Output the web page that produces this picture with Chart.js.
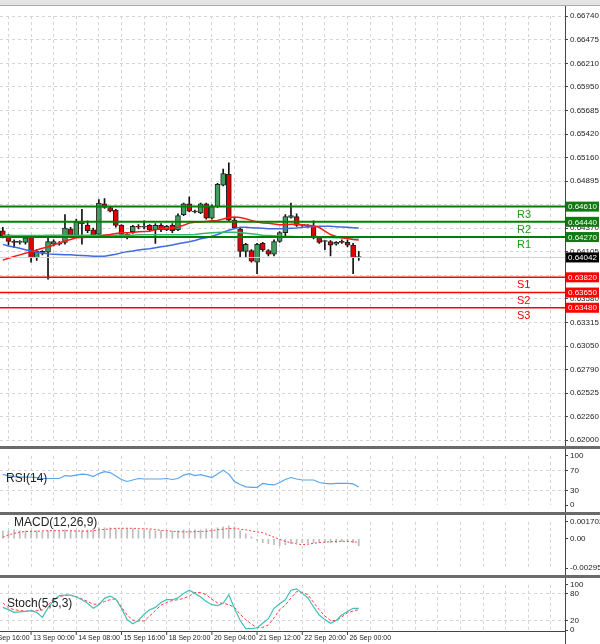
<!DOCTYPE html>
<html><head><meta charset="utf-8">
<script src="https://cdn.jsdelivr.net/npm/chart.js@4"></script>
<style>
body{margin:0;width:600px;height:644px;background:#fff;position:relative;overflow:hidden;font-family:"Liberation Sans",Arial,sans-serif}
.p{position:absolute;left:0;width:600px}
#top{position:absolute;left:0;top:0;width:600px;height:5px;background:#e4e4e4;border-bottom:1px solid #aaa}
.sep{position:absolute;left:0;width:600px;height:3px;background:#6a6a6a}
</style></head><body>
<div id="top"></div>
<div class="p" style="top:6px;height:441px"><canvas id="c1"></canvas></div>
<div class="sep" style="top:446px"></div>
<div class="p" style="top:449px;height:63px"><canvas id="c2"></canvas></div>
<div class="sep" style="top:512px"></div>
<div class="p" style="top:515px;height:60px"><canvas id="c3"></canvas></div>
<div class="sep" style="top:575px"></div>
<div class="p" style="top:578px;height:66px"><canvas id="c4"></canvas></div>
<script>
const N = 100;
const open  = [.6434,.6428,.6422,.6421,.6421,.6427,.6404,.6409,.6410,.6419,.6419,.6421,.6436,.6429,.6443,.6440,.6435,.6430,.6464,.6460,.6457,.6440,.6430,.6433,.6439,.6438,.6440,.6435,.6440,.6435,.6440,.6435,.6452,.6464,.6456,.6454,.6464,.6448,.6461,.6485,.6497,.6446,.6436,.6411,.6412,.6399,.6420,.6412,.6408,.6422,.6432,.6449,.6450,.6440,.6440,.6439,.6426,.6422,.6422,.6419,.6422,.6421,.6418,.6404];
const close = [.6428,.6422,.6421,.6421,.6426,.6404,.6411,.6411,.6422,.6422,.6420,.6437,.6429,.6444,.6442,.6434,.6429,.6465,.6460,.6456,.6440,.6430,.6429,.6439,.6438,.6438,.6435,.6440,.6435,.6439,.6434,.6451,.6464,.6456,.6455,.6464,.6448,.6461,.6486,.6498,.6446,.6437,.6411,.6419,.6400,.6419,.6413,.6408,.6422,.6432,.6450,.6451,.6440,.6440,.6439,.6426,.6421,.6422,.6418,.6421,.6421,.6418,.6404,.6404];
const high  = [.6438,.6430,.6424,.6423,.6428,.6428,.6413,.6412,.6427,.6424,.6422,.6452,.6438,.6447,.6458,.6445,.6437,.6469,.6470,.6461,.6458,.6441,.6431,.6440,.6441,.6445,.6441,.6442,.6442,.6440,.6442,.6453,.6465,.6472,.6457,.6465,.6465,.6463,.6487,.6503,.6510,.6448,.6437,.6420,.6413,.6420,.6421,.6413,.6424,.6433,.6452,.6465,.6453,.6441,.6441,.6445,.6427,.6423,.6423,.6422,.6424,.6424,.6420,.6411];
const low   = [.6426,.6418,.6415,.6419,.6419,.6399,.6401,.6407,.6380,.6417,.6418,.6419,.6427,.6427,.6419,.6432,.6428,.6429,.6459,.6455,.6438,.6428,.6425,.6431,.6436,.6436,.6434,.6420,.6433,.6434,.6432,.6434,.6451,.6455,.6454,.6453,.6447,.6447,.6460,.6484,.6445,.6436,.6404,.6404,.6399,.6386,.6411,.6406,.6406,.6421,.6428,.6448,.6439,.6439,.6438,.6425,.6420,.6413,.6406,.6418,.6420,.6416,.6386,.6401];
const maRedZ  = [368,362,357,352,347,342,337,332,328,322,315,310,305,300,299,298,298,296,292,290,287,285,285,284,282,281,280,276,272,272,270,268,262,255,253,252,250,248,247,243,238,237,238,242,247,252,255,256,258,260,260,259,258,260,262,263,268,280,290,296,300,302,305,307];
const maBlueZ = [320,325,328,332,336,340,343,346,349,350,351,352,352,353,354,355,356,356,356,353,350,346,342,340,337,335,333,330,327,325,322,318,315,312,308,303,300,295,290,283,277,272,268,268,269,270,271,272,272,272,272,271,270,268,267,266,265,265,265,266,267,268,269,270];
const maGreenZ= [292,292,293,293,293,293,293,293,292,292,292,292,292,292,292,292,292,292,292,292,292,292,292,292,291,291,291,291,291,291,291,291,291,291,290,288,286,285,284,283,283,283,284,286,288,290,292,293,294,295,296,296,297,297,298,298,299,299,299,300,300,300,300,300];
const zToPrice = z => +(0.653625 - 0.0000367*z).toFixed(5);
const maRed = maRedZ.map(zToPrice), maBlue = maBlueZ.map(zToPrice), maGreen = maGreenZ.map(zToPrice);
const rsi = [62,60,58,57,57,57,56,54,54,54,54,60,59,61,63,62,58,64,68,66,59,52,48,51,54,53,53,53,53,54,52,54,61,64,60,62,59,56,63,71,63,48,42,37,36,36,44,42,41,46,52,56,53,51,51,51,46,44,43,44,44,44,43,37];
const macdSig = [.00015,.00039,.00054,.00066,.00072,.00075,.00075,.00078,.00081,.00081,.00081,.00081,.00081,.00078,.00078,.00075,.00081,.0009,.00093,.00099,.00105,.00105,.00105,.00105,.00102,.00099,.00099,.00093,.00084,.00081,.00075,.00072,.00069,.00069,.00072,.00072,.00075,.00081,.0009,.00096,.00102,.00105,.00096,.0009,.00078,.00069,.0006,.00039,.00015,-.00006,-.00027,-.00039,-.00051,-.0006,-.00054,-.00045,-.00039,-.00033,-.0003,-.00027,-.00024,-.00027,-.0003,-.00036];
const macdHist = [.0008,.0008,.0009,.0008,.0008,.0008,.0008,.0007,.0008,.0008,.0008,.0009,.0008,.0008,.0008,.0009,.0010,.0011,.0011,.0011,.0010,.0010,.0010,.0010,.0009,.0009,.0009,.0008,.0008,.0008,.0008,.0008,.0009,.0009,.0009,.0009,.0010,.0010,.0011,.0012,.0013,.0012,.0008,.0005,.0002,-.0002,-.0004,-.0005,-.0006,-.0007,-.0006,-.0005,-.0004,-.0004,-.0004,-.0004,-.0004,-.0004,-.0004,-.0004,-.0003,-.0003,-.0004,-.0007];
const stochMain = [50,45,39,40,41,43,39,28,49,65,76,77,77,73,67,59,48,56,70,75,68,48,23,14,21,35,45,50,61,67,67,71,81,88,81,73,63,56,54,59,78,48,21,3,3,5,15,25,48,58,67,88,91,81,71,51,33,23,15,21,33,41,48,48];
const stochSig  = [60,49,45,43,42,42,43,44,55,69,73,77,77,74,69,63,57,57,63,67,69,51,33,22,20,20,31,43,55,61,65,67,70,75,83,83,78,68,60,59,56,50,35,23,13,5,6,11,27,45,55,71,85,83,78,61,45,31,21,21,29,38,42,45];
const priceTicks = [0.66740,0.66475,0.66210,0.65950,0.65685,0.65420,0.65160,0.64895,0.64630,0.64370,0.64105,0.63840,0.63580,0.63315,0.63050,0.62790,0.62525,0.62260,0.62000];
const levels = [{v:0.6461,n:'R3',c:'#008000'},{v:0.6444,n:'R2',c:'#008000'},{v:0.6427,n:'R1',c:'#008000'},{v:0.6382,n:'S1',c:'#ff0000'},{v:0.6365,n:'S2',c:'#ff0000'},{v:0.6348,n:'S3',c:'#ff0000'}];
const lastPrice = 0.64042;
const dateLabels = [{i:-3,t:'12 Sep 16:00'},{i:5,t:'13 Sep 00:00'},{i:13,t:'14 Sep 08:00'},{i:21,t:'15 Sep 16:00'},{i:29,t:'18 Sep 20:00'},{i:37,t:'20 Sep 04:00'},{i:45,t:'21 Sep 12:00'},{i:53,t:'22 Sep 20:00'},{i:61,t:'26 Sep 00:00'}];

const labels = Array.from({length:N},(_,i)=>i);
const F = '"Liberation Sans", Arial, sans-serif';
Chart.defaults.font.family = F;
Chart.defaults.animation = false;
const GRID = '#d4d4d4';

function xScale(){
  return {type:'category',display:true,offset:true,
    afterBuildTicks:s=>{s.ticks=s.ticks.filter(t=>t.value%4===1)},
    ticks:{display:false,autoSkip:false},border:{display:false,dash:[3,3]},
    grid:{offset:false,drawTicks:false,color:GRID},
  };
}
function yScale(min,max,ticks,fmt,gridVals){
  return {position:'right',min,max,
    afterFit:s=>{s.width=35},
    afterBuildTicks:s=>{s.ticks=ticks.map(v=>({value:v}))},
    border:{display:true,color:'#444',width:1,dash:[3,3]},
    grid:{drawTicks:true,tickLength:3,tickColor:'#444',color:ctx=>{const v=ctx.tick&&ctx.tick.value;return (gridVals===null||gridVals.includes(v))?GRID:'rgba(0,0,0,0)'}},
    ticks:{padding:2,color:'#222',font:{size:8},callback:fmt}
  };
}
function baseOpts(extra){
  return Object.assign({responsive:true,maintainAspectRatio:false,
    plugins:{legend:{display:false},tooltip:{enabled:false}}},extra);
}
const axisLine = {id:'ax',afterDraw(ch){const {ctx,chartArea:a}=ch;ctx.save();ctx.strokeStyle='#444';ctx.lineWidth=1;ctx.beginPath();ctx.moveTo(a.right+0.5,0);ctx.lineTo(a.right+0.5,ch.height);ctx.stroke();ctx.restore();}};

const bodyColors = open.map((o,i)=>close[i]>=o?'#3f9f5f':'#e00000');
const levelPlugin = {id:'lv',afterDraw(ch){
  const {ctx,chartArea:a,scales:{y}}=ch;
  ctx.save();
  const py=y.getPixelForValue(lastPrice);
  ctx.strokeStyle='#d0d0d0';ctx.lineWidth=1;ctx.beginPath();ctx.moveTo(a.left,py);ctx.lineTo(a.right,py);ctx.stroke();
  levels.forEach(l=>{
    const p=y.getPixelForValue(l.v);
    ctx.strokeStyle=l.c;ctx.lineWidth=l.c==='#008000'?2:1.5;
    ctx.beginPath();ctx.moveTo(a.left,p);ctx.lineTo(a.right,p);ctx.stroke();
    ctx.fillStyle=l.c==='#008000'?'#1e9a1e':'#ff0000';
    ctx.font='11px '+F;ctx.textAlign='left';ctx.textBaseline='middle';
    ctx.fillText(l.n,517,p+8);
    ctx.fillStyle=l.c==='#008000'?'#107a10':'#ff0000';
    ctx.fillRect(a.right+1,p-5,33,10);
    ctx.fillStyle='#fff';ctx.font='8px '+F;ctx.fillText(l.v.toFixed(5),a.right+3,p+0.5);
  });
  ctx.fillStyle='#000';ctx.fillRect(a.right+1,py-5,33,10);
  ctx.fillStyle='#fff';ctx.font='8px '+F;ctx.fillText(lastPrice.toFixed(5),a.right+3,py+0.5);
  ctx.restore();
}};
new Chart(document.getElementById('c1'),{
  data:{labels,datasets:[
    {type:'bar',data:high.map((h,i)=>[low[i],h]),backgroundColor:'#111',barThickness:1,grouped:false,order:3},
    {type:'bar',data:open.map((o,i)=>[o,close[i]]),backgroundColor:bodyColors,borderColor:'#222',borderWidth:1,borderSkipped:false,barThickness:5,minBarLength:1,grouped:false,order:2},
    {type:'line',data:maGreen,borderColor:'#3cb371',borderWidth:1.5,pointRadius:0,order:1},
    {type:'line',data:maBlue,borderColor:'#4169e1',borderWidth:1.5,pointRadius:0,order:1},
    {type:'line',data:maRed,borderColor:'#ff1a1a',borderWidth:1.5,pointRadius:0,order:0}
  ]},
  options:baseOpts({layout:{padding:{top:10,bottom:2}},
    scales:{x:xScale(),y:yScale(0.62,0.6674,priceTicks,v=>v.toFixed(5),null)}}),
  plugins:[levelPlugin,axisLine]});

function titlePlugin(t,x,y){return {id:'t'+t,afterDraw(ch){const c=ch.ctx;c.save();c.fillStyle='#222';c.font='12px '+F;c.textBaseline='middle';c.fillText(t,x,y);c.restore();}}}

new Chart(document.getElementById('c2'),{type:'line',
  data:{labels,datasets:[{data:rsi,borderColor:'#5aa5e8',borderWidth:1.2,pointRadius:0}]},
  options:baseOpts({layout:{padding:{top:4,bottom:5}},
    scales:{x:xScale(),y:yScale(0,100,[100,70,30,0],v=>String(v),[70,30])}}),
  plugins:[titlePlugin('RSI(14)',6,30),axisLine]});

new Chart(document.getElementById('c3'),{
  data:{labels,datasets:[
    {type:'bar',data:macdHist,backgroundColor:'#bdbdbd',barThickness:1,order:2},
    {type:'line',data:macdSig,borderColor:'#ff4040',borderWidth:1,borderDash:[2,2],pointRadius:0,order:1}
  ]},
  options:baseOpts({layout:{padding:{top:3,bottom:4}},
    scales:{x:xScale(),y:yScale(-0.002954,0.001702,[0.001702,0,-0.002954],v=>v===0?'0.00':String(v),[])}}),
  plugins:[titlePlugin('MACD(12,26,9)',14,8),axisLine]});

const xLabPlugin = {id:'xl',afterDraw(ch){
  const {ctx,chartArea:a,scales:{x}}=ch;
  const step=x.getPixelForValue(1)-x.getPixelForValue(0);
  ctx.save();ctx.strokeStyle='#444';ctx.lineWidth=1;
  ctx.beginPath();ctx.moveTo(0,a.bottom+1.5);ctx.lineTo(a.right,a.bottom+1.5);ctx.stroke();
  ctx.fillStyle='#222';ctx.font='7px '+F;ctx.textBaseline='middle';ctx.textAlign='left';
  dateLabels.forEach(d=>{const px=x.getPixelForValue(0)+d.i*step;
    ctx.beginPath();ctx.moveTo(px,a.bottom+2);ctx.lineTo(px,a.bottom+5);ctx.stroke();
    ctx.fillText(d.t,px+2,a.bottom+8);});
  ctx.restore();
}};
new Chart(document.getElementById('c4'),{type:'line',
  data:{labels,datasets:[
    {data:stochMain,borderColor:'#40c0b8',borderWidth:1.2,pointRadius:0},
    {data:stochSig,borderColor:'#ff4040',borderWidth:1,borderDash:[3,2],pointRadius:0}
  ]},
  options:baseOpts({layout:{padding:{top:1,bottom:14}},
    scales:{x:xScale(),y:yScale(0,100,[100,80,20,0],v=>String(v),[80,20])}}),
  plugins:[titlePlugin('Stoch(5,5,3)',7,26),xLabPlugin,axisLine]});
</script></body></html>
